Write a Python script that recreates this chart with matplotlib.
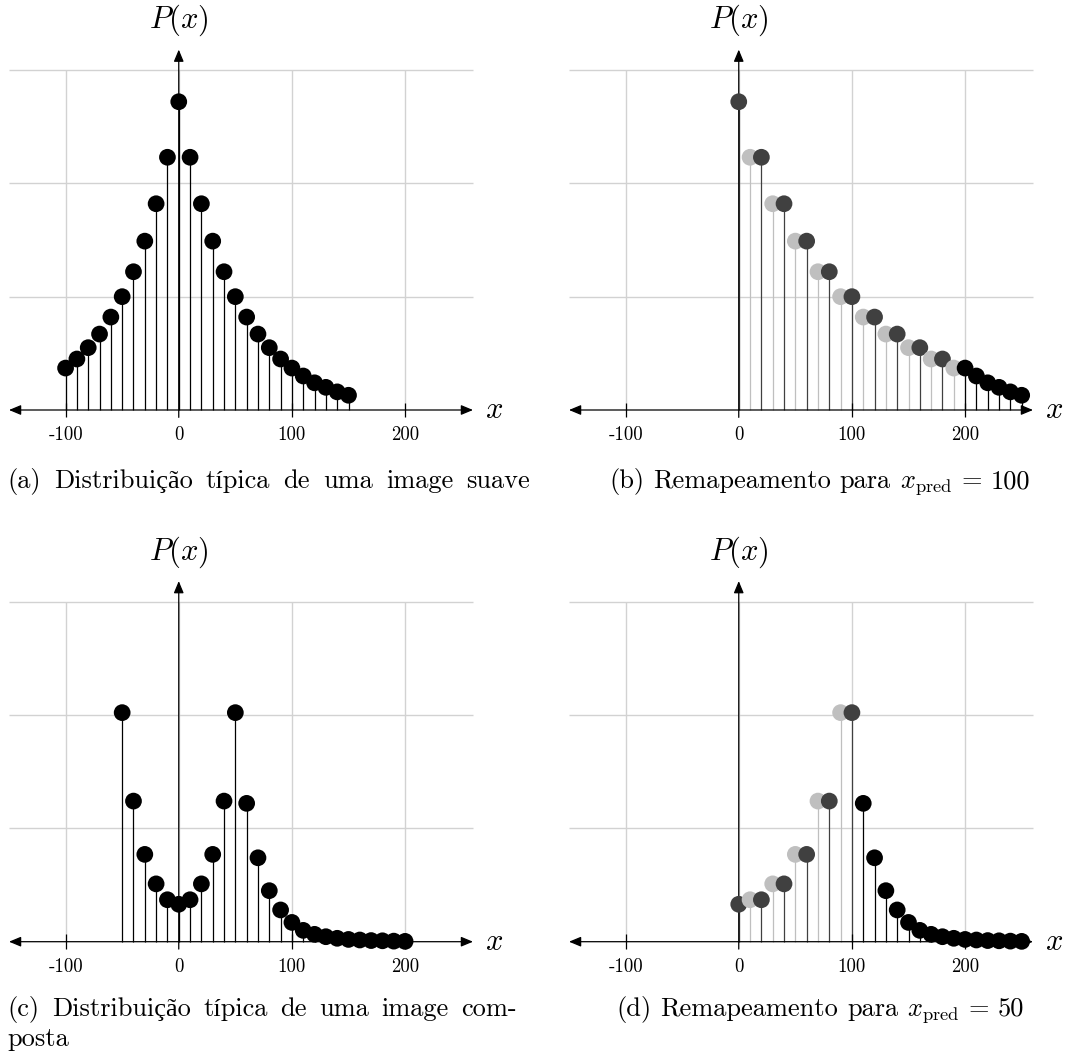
import matplotlib
matplotlib.use("Agg")
import matplotlib.pyplot as plt
import numpy as np

plt.rcParams["mathtext.fontset"] = "cm"
plt.rcParams["axes.unicode_minus"] = False

SERIF = ["cmr10", "Liberation Serif"]
W, H = 1065, 1059

BLACK = "#000000"
DARK = "#404040"
LIGHT = "#bfbfbf"
GRID = "#d2d2d2"

# (a) error distribution of a smooth image
smooth_x = np.arange(-100, 151, 10)
smooth_p = [0.37, 0.45, 0.55, 0.67, 0.82, 1.00, 1.22, 1.49, 1.82, 2.23, 2.72,
            2.23, 1.82, 1.49, 1.22, 1.00, 0.82, 0.67, 0.55, 0.45, 0.37,
            0.30, 0.24, 0.20, 0.16, 0.13]

# (b) remapped for x_pred = 100
r100_dark_x = np.arange(0, 181, 20)
r100_dark_p = [2.72, 2.23, 1.82, 1.49, 1.22, 1.00, 0.82, 0.67, 0.55, 0.45]
r100_light_x = np.arange(10, 191, 20)
r100_light_p = [2.23, 1.82, 1.49, 1.22, 1.00, 0.82, 0.67, 0.55, 0.45, 0.37]
r100_black_x = np.arange(200, 251, 10)
r100_black_p = [0.37, 0.30, 0.24, 0.20, 0.16, 0.13]

# (c) error distribution of a composite image
comp_x = np.arange(-50, 201, 10)
comp_p = [2.02, 1.24, 0.77, 0.51, 0.37, 0.33, 0.37, 0.51, 0.77, 1.24, 2.02,
          1.22, 0.74, 0.45, 0.28, 0.17, 0.10, 0.065, 0.044, 0.03, 0.02,
          0.015, 0.01, 0.008, 0.005, 0.003]

# (d) remapped for x_pred = 50
r50_dark_x = np.arange(0, 101, 20)
r50_dark_p = [0.33, 0.37, 0.51, 0.77, 1.24, 2.02]
r50_light_x = np.arange(10, 91, 20)
r50_light_p = [0.37, 0.51, 0.77, 1.24, 2.02]
r50_black_x = np.arange(110, 251, 10)
r50_black_p = [1.22, 0.74, 0.45, 0.28, 0.17, 0.10, 0.065, 0.044, 0.03, 0.02,
               0.015, 0.01, 0.008, 0.005, 0.003]

tick_values = [-100, 0, 100, 200]
tick_labels = ["-100", "0", "100", "200"]
grid_y = [1, 2, 3]
XMIN, XMAX = -150, 260

caption_a = ["(a)", "Distribuição", "típica", "de", "uma", "image", "suave"]
caption_b = ["(b)", "Remapeamento", "para", r"$x_{\mathrm{pred}}$", "=", "100"]
caption_c1 = ["(c)", "Distribuição", "típica", "de", "uma", "image", "com-"]
caption_c2 = ["posta"]
caption_d = ["(d)", "Remapeamento", "para", r"$x_{\mathrm{pred}}$", "=", "50"]


def px_axes(fig, left, top, right, bottom):
    return fig.add_axes([left / W, 1 - bottom / H, (right - left) / W, (bottom - top) / H])


def draw_panel(ax, groups):
    xs = np.concatenate([np.asarray(g[0], float) for g in groups])
    ps = np.concatenate([np.asarray(g[1], float) for g in groups])
    cs = np.concatenate([[g[2]] * len(g[0]) for g in groups])
    order = np.argsort(xs, kind="stable")
    xs, ps, cs = xs[order], ps[order], cs[order]

    ax.set_xlim(XMIN, XMAX)
    ax.set_ylim(0, 3)
    ax.axis("off")

    # grid
    ax.hlines(grid_y, XMIN, XMAX, colors=GRID, lw=1.0, zorder=0, clip_on=False)
    ax.vlines(tick_values, 0, 3, colors=GRID, lw=1.0, zorder=0, clip_on=False)

    # stems and dots
    ax.vlines(xs, 0, ps, colors=cs, lw=0.9, zorder=2, clip_on=False)
    ax.scatter(xs, ps, s=145, c=cs, linewidths=0, zorder=4, clip_on=False)

    # axes with arrow heads
    arrow = dict(arrowstyle="<|-|>,head_length=0.6,head_width=0.25", color=BLACK,
                 lw=0.9, shrinkA=0, shrinkB=0, mutation_scale=12)
    ax.annotate("", xy=(XMAX, 0), xytext=(XMIN, 0), arrowprops=arrow,
                annotation_clip=False, zorder=3)
    arrow_up = dict(arrow, arrowstyle="-|>,head_length=0.6,head_width=0.25")
    ax.annotate("", xy=(0, 3.18), xytext=(0, -0.065), arrowprops=arrow_up,
                annotation_clip=False, zorder=3)
    ax.vlines([t for t in tick_values if t != 0], -0.065, 0.065, colors=BLACK,
              lw=0.9, zorder=3, clip_on=False)

    for t, lab in zip(tick_values, tick_labels):
        ax.text(t, -0.265, lab, ha="center", va="baseline", fontsize=13.5,
                family=SERIF, clip_on=False)
    ax.text(0, 3.37, r"$P(x)$", ha="center", va="baseline", fontsize=22)
    ax.text(271, -0.07, r"$x$", ha="left", va="baseline", fontsize=22)


fig = plt.figure(figsize=(W / 100, H / 100), dpi=100)
fig.patch.set_facecolor("white")

ax_a = px_axes(fig, 9, 70, 473, 410)
ax_b = px_axes(fig, 569, 70, 1033, 410)
ax_c = px_axes(fig, 9, 601.5, 473, 941.7)
ax_d = px_axes(fig, 569, 601.5, 1033, 941.7)

draw_panel(ax_a, [(smooth_x, smooth_p, BLACK)])
draw_panel(ax_b, [(r100_dark_x, r100_dark_p, DARK),
                  (r100_light_x, r100_light_p, LIGHT),
                  (r100_black_x, r100_black_p, BLACK)])
draw_panel(ax_c, [(comp_x, comp_p, BLACK)])
draw_panel(ax_d, [(r50_dark_x, r50_dark_p, DARK),
                  (r50_light_x, r50_light_p, LIGHT),
                  (r50_black_x, r50_black_p, BLACK)])

# captions are set word by word
renderer = fig.canvas.get_renderer()
CAP = 19
SPACE = CAP * 100 / 72 / 3


def word_widths(words):
    ts = [fig.text(0, 0, w, fontsize=CAP, family=SERIF) for w in words]
    ws = [t.get_window_extent(renderer).width for t in ts]
    for t in ts:
        t.remove()
    return ws


def set_words(words, left, y, gap):
    pos = left
    for w, wd in zip(words, word_widths(words)):
        fig.text(pos / W, 1 - y / H, w, ha="left", va="baseline", fontsize=CAP,
                 family=SERIF)
        pos += wd + gap


def justified(words, left, right, y):
    gap = (right - left - sum(word_widths(words))) / max(len(words) - 1, 1)
    set_words(words, left, y, gap)


def centered(words, xc, y):
    total = sum(word_widths(words)) + SPACE * (len(words) - 1)
    set_words(words, xc - total / 2, y, SPACE)


justified(caption_a, 7, 530, 488)
centered(caption_b, 819.5, 488)
justified(caption_c1, 7, 517, 1016)
set_words(caption_c2, 7, 1046, 0)
centered(caption_d, 820, 1016)

fig.savefig("out.png", dpi=100, facecolor="white")
